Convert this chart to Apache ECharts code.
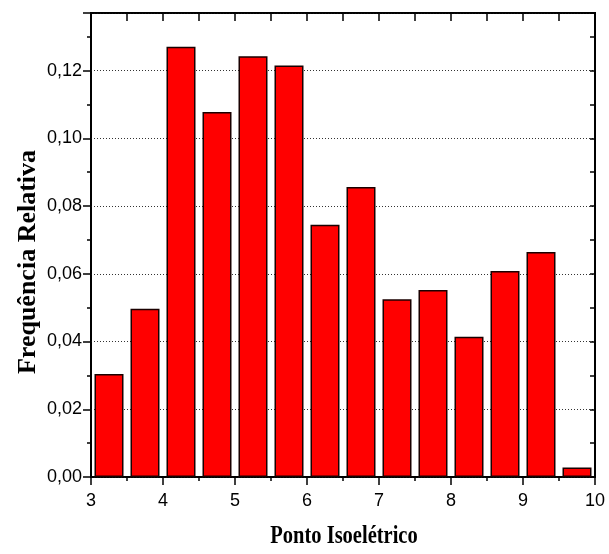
<!DOCTYPE html>
<html>
<head>
<meta charset="utf-8">
<script src="https://cdn.jsdelivr.net/npm/echarts@6/dist/echarts.min.js"></script>
<style>
  html, body { margin: 0; padding: 0; background: #fff; overflow: hidden; }
  #chart { width: 609px; height: 554px; }
</style>
</head>
<body>
<div id="chart"></div>
<script>
// ponto isoelétrico (centro de cada classe) e frequência relativa
var pI = [3.25, 3.75, 4.25, 4.75, 5.25, 5.75, 6.25, 6.75, 7.25, 7.75, 8.25, 8.75, 9.25, 9.75];
var freq = [0.0304, 0.0497, 0.1270, 0.1078, 0.1242, 0.1215, 0.0745, 0.0856, 0.0525, 0.0552, 0.0414, 0.0608, 0.0664, 0.0028];
var xTicks = [3, 4, 5, 6, 7, 8, 9, 10];
var yTicks = [0, 0.02, 0.04, 0.06, 0.08, 0.10, 0.12];

var xMin = xTicks[0], xMax = xTicks[xTicks.length - 1];
var yMin = 0, yMax = 0.137;

var line = { show: true, onZero: false, lineStyle: { color: '#000', width: 1.5 } };
var tickStyle = { color: '#000', width: 1.5 };
var lbl = { fontFamily: 'Liberation Sans, Arial', fontSize: 18, color: '#000' };
var box = { left: 91, right: 14, top: 13, bottom: 77 };

var chart = echarts.init(document.getElementById('chart'));
chart.setOption({
  animation: false,
  // grid 0: data + main axes; grid 1: minor ticks of the left axis
  grid: [
    Object.assign({ show: true, borderColor: '#000', borderWidth: 2, backgroundColor: 'transparent' }, box),
    Object.assign({}, box)
  ],
  xAxis: [
    { gridIndex: 0, type: 'value', position: 'bottom', min: xMin, max: xMax, interval: 1,
      axisLine: line,
      axisTick: { show: true, length: 8, lineStyle: tickStyle },
      minorTick: { show: true, splitNumber: 2, length: 4, lineStyle: tickStyle },
      axisLabel: Object.assign({ margin: 15 }, lbl),
      splitLine: { show: false } },
    { gridIndex: 0, type: 'value', position: 'top', min: xMin, max: xMax, interval: 0.5,
      axisLine: line,
      axisTick: { show: true, inside: true, length: 8, lineStyle: tickStyle },
      axisLabel: { show: false }, splitLine: { show: false } },
    { gridIndex: 1, type: 'value', min: xMin, max: xMax, show: false }
  ],
  yAxis: [
    { gridIndex: 0, type: 'value', position: 'left', min: yMin, max: yMax, interval: 0.02,
      axisLine: line,
      axisTick: { show: true, length: 8, lineStyle: tickStyle },
      axisLabel: Object.assign({ margin: 9,
        formatter: function (v) { return yTicks.some(function (t) { return Math.abs(t - v) < 1e-9; }) ? v.toFixed(2).replace('.', ',') : ''; } }, lbl),
      splitLine: { show: true, lineStyle: { color: '#333', width: 1, type: [1, 2] } } },
    { gridIndex: 0, type: 'value', position: 'right', min: yMin, max: yMax, interval: 0.01,
      axisLine: { show: true, onZero: false, lineStyle: { color: '#000', width: 2 } },
      axisTick: { show: true, inside: true, length: 5, lineStyle: tickStyle },
      axisLabel: { show: false }, splitLine: { show: false } },
    { gridIndex: 1, type: 'value', position: 'left', min: yMin, max: yMax, interval: 0.01,
      axisLine: { show: false, onZero: false },
      axisTick: { show: true, length: 4, lineStyle: tickStyle },
      axisLabel: { show: false }, splitLine: { show: false } }
  ],
  series: [{
    type: 'bar',
    xAxisIndex: 0, yAxisIndex: 0,
    barWidth: 29,
    data: pI.map(function (x, i) { return [x, freq[i]]; }),
    itemStyle: { color: '#ff0000', borderColor: '#1a0000', borderWidth: 1.5 },
    z: 3
  }],
  graphic: [
    { type: 'text', x: 28, y: 262, rotation: Math.PI / 2, z: 10,
      style: { text: 'Frequência Relativa', fontFamily: 'Liberation Serif, Times New Roman', fontWeight: 'bold',
        fontSize: 26, fill: '#000', align: 'center', verticalAlign: 'middle' } },
    { type: 'text', x: 344, y: 537, scaleX: 0.82, z: 10,
      style: { text: 'Ponto Isoelétrico', fontFamily: 'Liberation Serif, Times New Roman', fontWeight: 'bold',
        fontSize: 25, fill: '#000', align: 'center', verticalAlign: 'middle' } }
  ]
});
</script>
</body>
</html>
